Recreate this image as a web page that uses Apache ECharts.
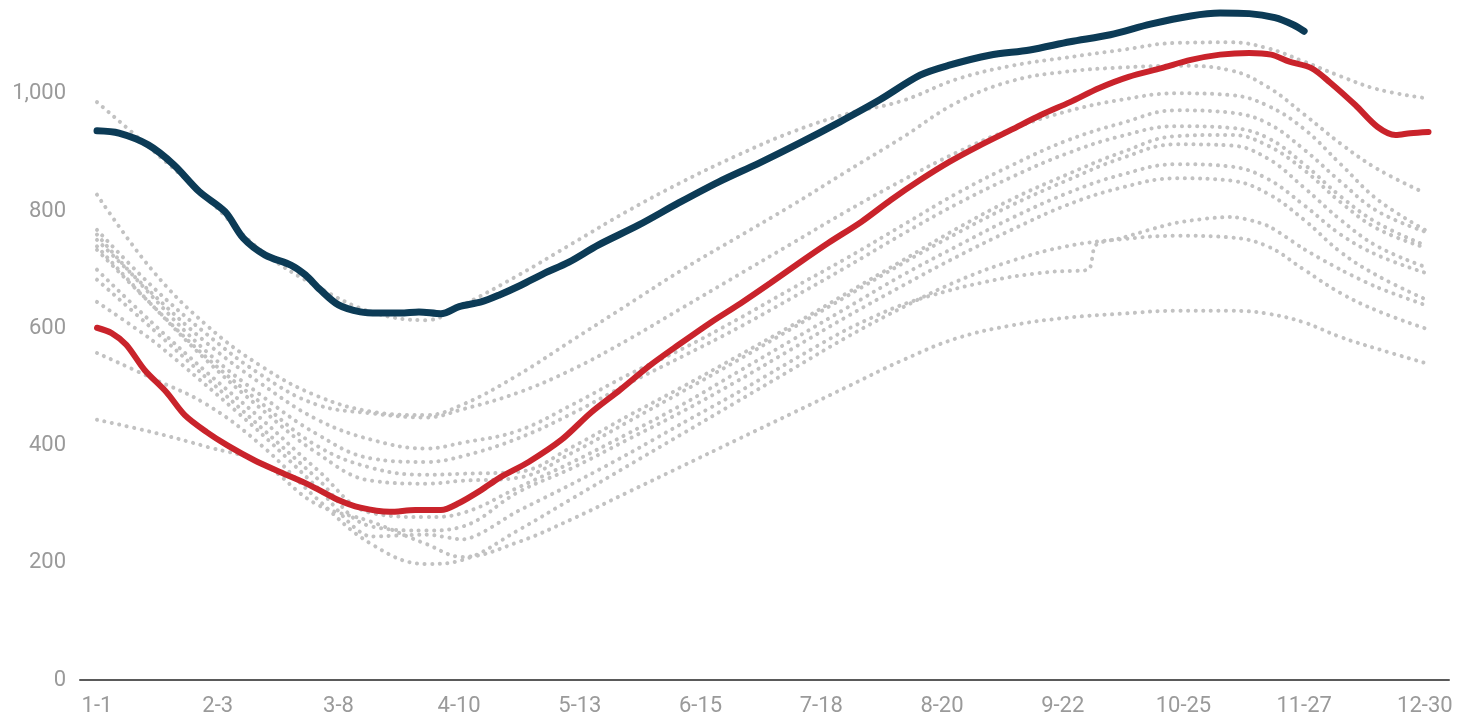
<!DOCTYPE html>
<html>
<head>
<meta charset="utf-8">
<script src="https://cdn.jsdelivr.net/npm/echarts@6/dist/echarts.min.js"></script>
<style>
html,body{margin:0;padding:0;background:#fff;}
#chart{width:1473px;height:720px;}
</style>
</head>
<body>
<div id="chart"></div>
<script>
// x tick positions (day of year index) and their labels
var tickDays = [0,33,66,99,132,165,198,231,264,297,330,363];
var tickLabels = ['1-1','2-3','3-8','4-10','5-13','6-15','7-18','8-20','9-22','10-25','11-27','12-30'];
var yTicks = [0,200,400,600,800,1000];

// sample days for the gray (previous years) lines
var grayDays = [0,15,30,45,60,75,90,100,115,130,145,160,175,190,205,220,235,250,265,280,295,310,320,330,340,350,363];
var grayT  = [986,905,822,732,672,628,614,640,690,745,800,850,895,935,966,988,1025,1048,1062,1075,1087,1088,1078,1055,1030,1008,993];
var grayS  = [828,700,605,535,485,458,452,470,520,580,640,700,755,810,868,925,985,1022,1038,1045,1048,1040,1012,965,915,872,831];
var gray3  = [768,672,590,520,470,455,448,462,490,530,580,635,690,745,800,852,900,940,970,990,1001,998,980,940,880,820,768];
var gray4  = [751,660,575,505,445,410,395,405,425,470,520,565,615,668,720,775,830,878,920,950,972,968,950,905,850,800,765];
var gray5  = [760,655,560,485,420,378,372,382,412,455,505,552,600,652,705,760,812,858,898,928,945,942,925,880,825,780,742];
var gray6  = [734,640,550,472,400,362,350,352,355,398,450,500,552,605,660,715,770,820,862,900,928,930,912,870,815,770,738];
var gray7  = [740,640,545,462,388,340,335,340,345,388,440,492,545,600,655,710,762,810,852,890,914,912,890,840,785,740,705];
var gray8  = [700,610,525,445,360,285,278,285,328,372,420,470,525,580,635,690,740,788,830,862,880,876,855,810,760,725,695];
var gray9  = [683,600,515,430,345,262,255,262,320,362,410,458,510,565,620,672,722,768,810,840,856,852,830,785,730,690,650];
var gray11 = [558,515,470,400,310,232,198,205,255,310,365,420,475,530,585,635,680,715,740,752,758,755,740,700,660,630,600];
var gray12 = [444,423,398,370,300,270,232,210,235,275,320,365,410,455,500,545,583,605,618,625,630,630,625,610,585,565,541];
var grayLines = [grayT,grayS,gray3,gray4,gray5,gray6,gray7,gray8,gray9,gray11,gray12];

// the gray line with a jump near 9-22 has its own sample days
var stepDays = [0,15,30,45,60,75,90,100,115,130,145,160,175,190,205,220,235,250,262,271,273,280,295,310,320,330,340,350,363];
var stepVals = [645,580,502,420,330,245,248,240,288,335,385,438,490,545,598,640,668,688,697,700,742,754,780,790,775,735,700,670,640];

// current year (navy, partial)
var navyDays = [0,6,14,21,28,35,40,46,53,57,61,66,72,77,83,88,94,99,105,110,116,122,129,137,148,159,170,181,192,203,214,225,233,244,255,266,277,288,299,307,315,322,327,330];
var navyVals = [937,933,913,879,833,799,754,725,708,691,666,640,628,626,626,628,625,637,645,657,674,693,713,742,776,814,850,882,916,952,990,1032,1049,1066,1075,1089,1101,1119,1133,1138,1137,1130,1118,1107];

// highlighted year (red)
var redDays = [0,4,8,13,19,24,30,36,43,50,58,66,72,80,87,94,99,105,110,118,127,135,143,151,159,168,176,184,192,200,209,217,225,233,241,250,258,266,274,282,291,299,307,315,321,326,332,337,344,350,355,359,364];
var redVals = [601,592,572,529,491,452,423,399,375,355,333,307,294,287,290,290,302,324,345,372,410,456,495,536,572,611,643,677,712,746,782,819,853,884,911,939,964,986,1010,1029,1044,1058,1067,1070,1067,1055,1044,1020,981,944,930,933,935];

function pairs(xs, ys){ return xs.map(function(x,i){ return [x, ys[i]]; }); }

var grayStyle = {color:'#c2c2c2', width:4, type:[0.1,7.5], cap:'round'};
var series = grayLines.map(function(vals){
  return { type:'line', data: pairs(grayDays, vals), showSymbol:false, smooth:0.4,
           lineStyle: grayStyle, z:1, silent:true };
});
series.push({ type:'line', data: pairs(stepDays, stepVals), showSymbol:false, smooth:0.25,
              lineStyle: grayStyle, z:1, silent:true });
series.push({
  type:'line', data: pairs(redDays, redVals), showSymbol:false, smooth:0.3,
  lineStyle:{color:'#c9232b', width:6, cap:'round'}, z:3
});
series.push({
  type:'line', data: pairs(navyDays, navyVals), showSymbol:false, smooth:0.3,
  lineStyle:{color:'#0c3b56', width:7, cap:'round'}, z:4
});

var chart = echarts.init(document.getElementById('chart'), null, {renderer:'canvas'});
chart.setOption({
  animation:false,
  backgroundColor:'#fff',
  grid:{left:80, right:24, top:6, bottom:40, containLabel:false},
  xAxis:{
    type:'value', min:-4.65, max:369.6,
    axisLine:{show:true, lineStyle:{color:'#5a5a5a', width:2}},
    axisTick:{show:false},
    splitLine:{show:false},
    axisLabel:{
      customValues: tickDays,
      margin:15,
      color:'#9a9a9a', fontFamily:'Roboto', fontSize:22,
      formatter:function(v){ var i = tickDays.indexOf(Math.round(v)); return i>=0 ? tickLabels[i] : ''; }
    }
  },
  yAxis:{
    type:'value', min:0, max:1150,
    axisLine:{show:false}, axisTick:{show:false}, splitLine:{show:false},
    axisLabel:{
      customValues: yTicks,
      margin:14,
      color:'#9a9a9a', fontFamily:'Roboto', fontSize:22,
      formatter:function(v){ return v.toLocaleString('en-US'); }
    }
  },
  series: series
});
</script>
</body>
</html>
